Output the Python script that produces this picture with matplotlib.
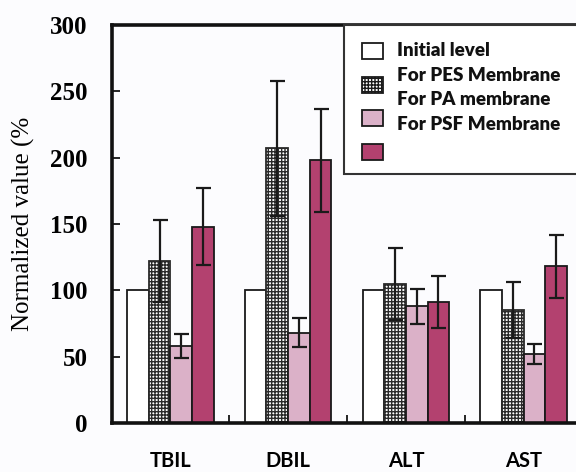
import matplotlib
matplotlib.use("Agg")
import matplotlib.pyplot as plt
import numpy as np
from matplotlib.patches import Rectangle

categories = ["TBIL", "DBIL", "ALT", "AST"]
initial = [100, 100, 100, 100]
pes = [122, 207, 105, 85]
pes_err = [31, 51, 27, 21]
pa = [58, 68, 88, 52]
pa_err = [9, 11, 13, 7.5]
psf = [148, 198, 91, 118]
psf_err = [29, 39, 19.5, 24]
yticks = [0, 50, 100, 150, 200, 250, 300]
legend_labels = ["Initial level", "For PES Membrane", "For PA membrane", "For PSF Membrane"]

bg = "#fcfcfe"
c_light = "#dbb1c8"
c_dark = "#b3416f"
plt.rcParams['hatch.linewidth'] = 1.0

fig = plt.figure(figsize=(5.76, 4.72), dpi=100, facecolor=bg)
ax = fig.add_axes([0.1936, 0.1038, 0.8177, 0.8432])
ax.set_facecolor(bg)

x = np.arange(len(categories))
w = 0.184
ekw = dict(ecolor="#1a1a1a", elinewidth=1.6, capsize=5.4, capthick=1.6)
ax.bar(x - 1.5 * w, initial, w, color="white", edgecolor="#1a1a1a", linewidth=1.3, zorder=2)
ax.bar(x - 0.5 * w, pes, w, color="white", edgecolor="#2a2a2a", hatch="+++++", linewidth=1.3, zorder=2)
ax.bar(x + 0.5 * w, pa, w, color=c_light, edgecolor="#1a1a1a", linewidth=1.3, zorder=2)
ax.bar(x + 1.5 * w, psf, w, color=c_dark, edgecolor="#1a1a1a", linewidth=1.3, zorder=2)
ax.errorbar(x - 0.5 * w, pes, yerr=pes_err, fmt="none", zorder=3, **ekw)
ax.errorbar(x + 0.5 * w, pa, yerr=pa_err, fmt="none", zorder=3, **ekw)
ax.errorbar(x + 1.5 * w, psf, yerr=psf_err, fmt="none", zorder=3, **ekw)

ax.set_xlim(-0.5, 3.5)
ax.set_ylim(0, 300)
ax.set_yticks(yticks)
ax.set_yticklabels([str(t) for t in yticks], fontfamily="Liberation Serif",
                   fontweight="bold", fontsize=18)
ax.tick_params(axis="y", direction="in", length=6, width=1.2, pad=17)
ax.set_xticks(x)
ax.set_xticklabels(categories, fontfamily="Lato", fontweight="bold", fontsize=14.5)
ax.tick_params(axis="x", which="major", length=0, pad=20)
ax.set_xticks(np.arange(-0.5, 3.6, 1.0), minor=True)
ax.tick_params(axis="x", which="minor", direction="in", length=6, width=1.2)

for s in ax.spines.values():
    s.set_linewidth(2.6)
    s.set_color("#111111")

fig.text(23 / 576, 0.525, "Normalized value (%", rotation=90, ha="center", va="center",
         fontfamily="Liberation Serif", fontsize=18)

# legend (drawn manually to match the offset labels)
ax.add_patch(Rectangle((0.4936, 0.6256), 0.6, 1 - 0.6256, transform=ax.transAxes, facecolor="white",
                       edgecolor="#333333", linewidth=1.5, zorder=5, clip_on=False))
sw_y = [0.9347, 0.849, 0.766, 0.681]
sw_styles = [dict(facecolor="white"), dict(facecolor="white", hatch="+++++"),
             dict(facecolor=c_light), dict(facecolor=c_dark)]
for yy, st in zip(sw_y, sw_styles):
    ax.add_patch(Rectangle((0.532, yy - 0.02), 0.0446, 0.04, transform=ax.transAxes,
                           edgecolor="#1a1a1a", linewidth=1.3, zorder=6, clip_on=False, **st))
tx_y = [0.937, 0.874, 0.812, 0.749]
for yy, lab in zip(tx_y, legend_labels):
    ax.text(0.606, yy, lab, transform=ax.transAxes, ha="left", va="center",
            fontfamily="Lato", fontweight="heavy", fontsize=13.5, color="#111111", zorder=7)

fig.savefig("out.png", dpi=100, facecolor=bg)
